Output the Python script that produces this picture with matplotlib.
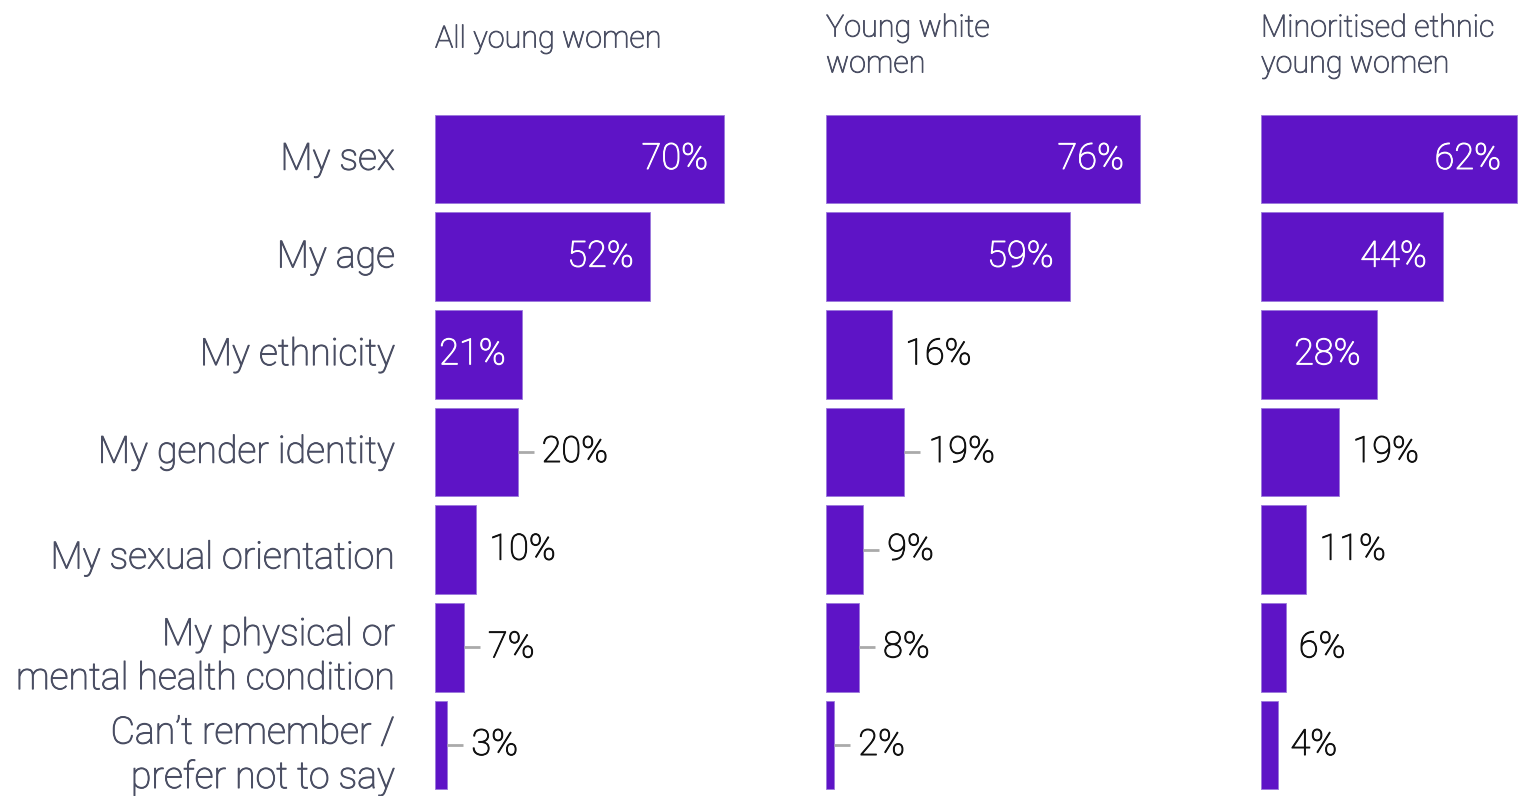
import matplotlib
matplotlib.use("Agg")
import matplotlib.pyplot as plt
from matplotlib import transforms
import matplotlib.patheffects as pe

# Reasons given, shared by all three groups
categories = [
    "My sex",
    "My age",
    "My ethnicity",
    "My gender identity",
    "My sexual orientation",
    "My physical or\nmental health condition",
    "Can\u2019t remember /\nprefer not to say",
]

# Percentage of each group citing the reason
all_young_women = [70, 52, 21, 20, 10, 7, 3]
young_white_women = [76, 59, 16, 19, 9, 8, 2]
minoritised_ethnic_women = [62, 44, 28, 19, 11, 6, 4]

panel_titles = ["All young women", "Young white\nwomen", "Minoritised ethnic\nyoung women"]

# Which outside labels get a short connector line
leaders = [
    [False, False, False, True, False, True, True],
    [False, False, False, True, True, True, True],
    [False] * 7,
]
# Vertical nudges (px) for the category labels
label_nudge = [0, 0, 0, 0, 8, 9, 10]

BAR = "#5E14C6"
EDGE = "#9a78dc"
LABEL = "#4A4E63"
FONT = ["Roboto", "DejaVu Sans"]
WEIGHT = "light"


def thicken(color, w=0.7):
    return [pe.Stroke(linewidth=w, foreground=color), pe.Normal()]


W, H = 1537, 796
fig = plt.figure(figsize=(W / 100, H / 100), dpi=100)

px_per_pct = 4.13
xmax = 80
axw = xmax * px_per_pct
top_px, bot_px = 110, 796
pitch = 97.67
y_top = -(159 - top_px) / pitch
y_bot = y_top + (bot_px - top_px) / pitch

lefts = [435, 826, 1261]
series = [all_young_women, young_white_women, minoritised_ethnic_women]
title_y = [39, 46, 46]

for k, (left, vals) in enumerate(zip(lefts, series)):
    ax = fig.add_axes([left / W, 1 - bot_px / H, axw / W, (bot_px - top_px) / H])
    ax.set_xlim(0, xmax)
    ax.set_ylim(y_bot, y_top)
    ax.axis("off")
    ypos = list(range(len(vals)))
    ax.barh(ypos, vals, height=0.91, color=BAR, edgecolor=EDGE, linewidth=0.6)
    for i, v in enumerate(vals):
        if v >= 21:
            off = transforms.offset_copy(ax.transData, fig=fig, x=-16 * 0.72, y=0, units="points")
            ax.text(v, i, f"{v}%", transform=off, ha="right", va="center",
                    color="white", fontsize=26, family=FONT, fontweight=WEIGHT,
                    path_effects=thicken("white"))
        else:
            if leaders[k][i]:
                ax.plot([v, v + 16 / px_per_pct], [i, i], color="#AAAAAA", lw=2,
                        solid_capstyle="butt")
                dx = 24
            else:
                dx = 13
            off = transforms.offset_copy(ax.transData, fig=fig, x=dx * 0.72, y=0, units="points")
            ax.text(v, i, f"{v}%", transform=off, ha="left", va="center",
                    color="#111111", fontsize=26, family=FONT, fontweight=WEIGHT,
                    path_effects=thicken("#111111"))
    fig.text((left + 0) / W, 1 - title_y[k] / H, panel_titles[k], ha="left", va="center",
             color=LABEL, fontsize=22, family=FONT, fontweight=WEIGHT, linespacing=1.3,
             path_effects=thicken(LABEL, 0.6))

# Category labels to the left of the first panel
for i, c in enumerate(categories):
    yc = 159 + i * pitch + label_nudge[i]
    fig.text(395 / W, 1 - yc / H, c, ha="right", va="center", color=LABEL,
             fontsize=27, family=FONT, fontweight=WEIGHT, linespacing=1.22,
             path_effects=thicken(LABEL))

fig.savefig("out.png", dpi=100, facecolor="white")
